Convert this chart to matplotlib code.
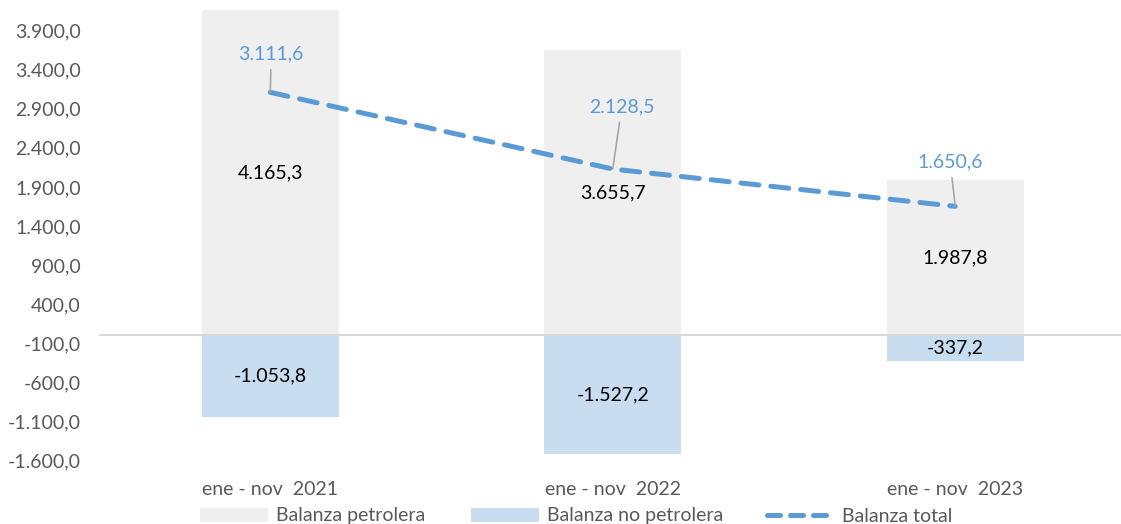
import matplotlib
matplotlib.use("Agg")
import matplotlib.pyplot as plt
from matplotlib.patches import Patch
from matplotlib.lines import Line2D
import numpy as np

categorias = ["ene - nov  2021", "ene - nov  2022", "ene - nov  2023"]
petrolera = [4165.3, 3655.7, 1987.8]
no_petrolera = [-1053.8, -1527.2, -337.2]
total = [3111.6, 2128.5, 1650.6]
ticks_y = list(range(-1600, 4400, 500))

# desplazamiento (px) de la etiqueta del total respecto al punto
offsets_total = [(1, 38), (9, 62), (-5, 44)]

c_petro = "#EFEFEF"
c_nopetro = "#C9DDF1"
c_total = "#5B9BD5"
c_texto = "#595959"


def fmt(v):
    s = f"{v:,.1f}"
    return s.replace(",", "X").replace(".", ",").replace("X", ".")


plt.rcParams["font.family"] = ["Lato", "DejaVu Sans"]
plt.rcParams["font.size"] = 14

fig = plt.figure(figsize=(11.21, 5.24), dpi=100)
ax = fig.add_axes([99 / 1121, (524 - 479.5) / 524, 1027.5 / 1121, 476 / 524])

x = np.arange(len(categorias))
b1 = ax.bar(x, petrolera, width=0.4, color=c_petro, zorder=1)
b2 = ax.bar(x, no_petrolera, width=0.4, color=c_nopetro, zorder=1)
ax.axhline(0, color="#D9D9D9", lw=1.5, zorder=2)

ax.bar_label(b1, labels=[fmt(v) for v in petrolera], label_type="center", color="black")
ax.bar_label(b2, labels=[fmt(v) for v in no_petrolera], label_type="center", color="black")

estilo = (0, (3.6, 2.4))
ax.plot(x, total, color=c_total, lw=3.6, linestyle=estilo,
        dash_capstyle="round", zorder=3)

for xi, v, off in zip(x, total, offsets_total):
    ax.annotate(fmt(v), xy=(xi, v), xytext=off, textcoords="offset pixels",
                ha="center", va="center", color=c_total,
                arrowprops=dict(arrowstyle="-", color="#A6A6A6", lw=1.2,
                                shrinkA=3, shrinkB=0))

ax.set_xlim(-0.5, 2.5)
ax.set_ylim(-1850, 4250)
ax.set_yticks(ticks_y)
ax.set_yticklabels([fmt(t) for t in ticks_y], color=c_texto)
ax.set_xticks(x)
ax.set_xticklabels(categorias, color=c_texto)
ax.tick_params(axis="both", length=0)
ax.tick_params(axis="y", pad=13)
ax.tick_params(axis="x", pad=1)
for s in ax.spines.values():
    s.set_visible(False)

handles = [
    Patch(facecolor=c_petro, label="Balanza petrolera"),
    Patch(facecolor=c_nopetro, label="Balanza no petrolera"),
    Line2D([], [], color=c_total, lw=3.6, linestyle=(0, (2.6, 2.0)),
           dash_capstyle="round", label="Balanza total"),
]
pos_x = [200, 471, 767]
largos = [3.5, 3.5, 3.45]
for h, px, hl in zip(handles, pos_x, largos):
    fig.legend(handles=[h], loc="center left",
               bbox_to_anchor=(px / 1121, 1 - 516 / 524),
               frameon=False, borderpad=0, borderaxespad=0,
               handlelength=hl, handleheight=0.7,
               handletextpad=0.4, labelcolor=c_texto)

fig.savefig("out.png", dpi=100)
